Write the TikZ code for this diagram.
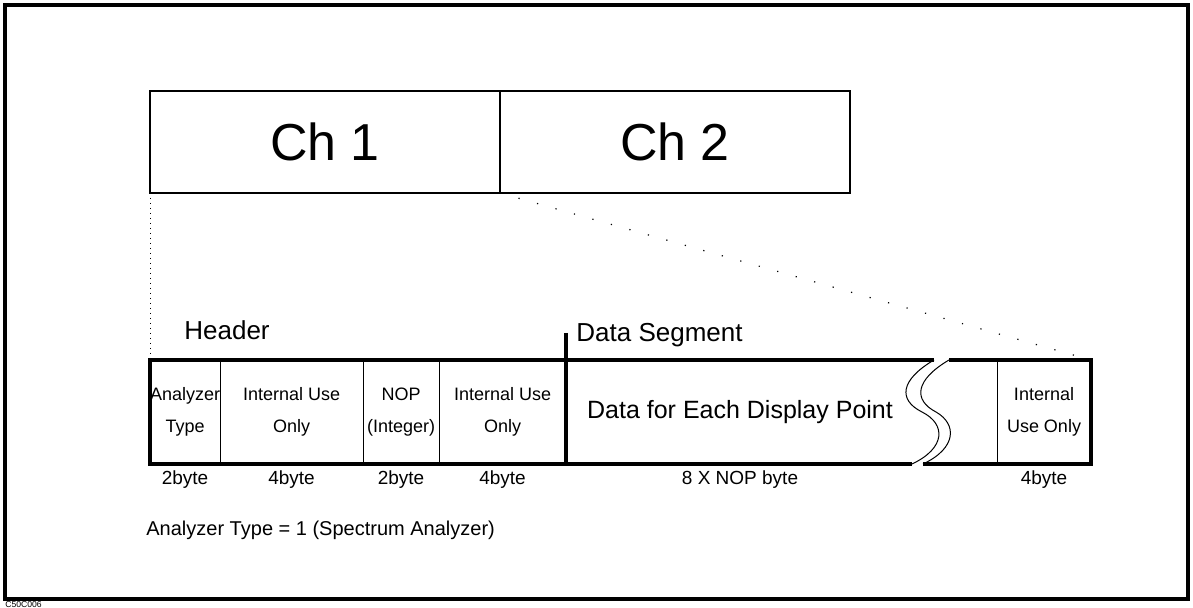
\documentclass[tikz,border=0pt]{standalone}
\usepackage{fontspec}
\setmainfont{Liberation Sans}
\usetikzlibrary{positioning, calc}

\tikzset{
	chbox/.style={draw, line width=0.8pt, minimum width=175pt, minimum height=51pt,
		inner sep=0pt, outer sep=0pt, font=\fontsize{26}{26}\selectfont},
	cell/.style={minimum height=52pt, inner sep=0pt, outer sep=0pt, align=center,
		font=\fontsize{9}{16}\selectfont},
	lbl/.style={inner sep=0pt, font=\fontsize{9.5}{10}\selectfont},
	title/.style={inner sep=0pt, anchor=west, font=\fontsize{13}{13}\selectfont},
	barline/.style={line width=1.6pt},
	divline/.style={line width=0.5pt},
	sparse/.style={line width=0.6pt, dash pattern=on 0.6pt off 9pt},
}

\begin{document}
\begin{tikzpicture}[x=0.5pt,y=-0.5pt]
	\useasboundingbox (0,0) rectangle (1193,608);
	\draw[line width=1.8pt] (5,5) rectangle (1188,599);
	% channels
	\node[chbox, anchor=north west] (ch1) at (150,91) {Ch 1};
	\node[chbox, right=0pt of ch1] (ch2) {Ch 2};
	% header and data segment cells
	\node[title] (hdr) at (184,330) {Header};
	\node[title] (seg) at (576,335) {Data Segment};
	\node[cell, minimum width=34.5pt, anchor=north west] (typ) at (150,360) {Analyzer\\Type};
	\node[cell, minimum width=71.5pt, right=0pt of typ] (iu1) {Internal Use\\Only};
	\node[cell, minimum width=38pt, right=0pt of iu1] (nop) {NOP\\(Integer)};
	\node[cell, minimum width=63.5pt, right=0pt of nop] (iu2) {Internal Use\\Only};
	\node[cell, minimum width=150pt, font=\fontsize{12.5}{14}\selectfont] (data) at (740,412) {Data for Each Display Point};
	\node[cell, minimum width=47pt, anchor=north east] (iu3) at (1091,360) {Internal\\Use Only};
	% outline with break
	\draw[barline] (934,360) -- (typ.north west) -- (typ.south west) -- (912,464);
	\draw[barline] (949,360) -- (iu3.north east) -- (iu3.south east) -- (923,464);
	\draw[barline] ($(iu2.north east)+(0,-27)$) -- (iu2.south east);
	\draw[divline] (typ.north east) -- (typ.south east);
	\draw[divline] (iu1.north east) -- (iu1.south east);
	\draw[divline] (nop.north east) -- (nop.south east);
	\draw[divline] (iu3.north west) -- (iu3.south west);
	\draw[divline] (934,360) .. controls (900,380) and (898,400) .. (922,412)
		.. controls (946,424) and (946,448) .. (912,464);
	\draw[divline] (949,360) .. controls (915,380) and (913,400) .. (936,412)
		.. controls (957,424) and (957,448) .. (923,464);
	% zoom lines
	\draw[divline, dotted] (ch1.south west) -- (typ.north west);
	\draw[sparse] (ch2.south west) -- (iu3.north east);
	% sizes
	\node[lbl, below=3pt of typ] (s1) {2byte};
	\node[lbl, below=3pt of iu1] (s2) {4byte};
	\node[lbl, below=3pt of nop] (s3) {2byte};
	\node[lbl, below=3pt of iu2] (s4) {4byte};
	\node[lbl, below=3pt of data] (s5) {8 X NOP byte};
	\node[lbl, below=3pt of iu3] (s6) {4byte};
	\node[inner sep=0pt, anchor=west, font=\fontsize{10}{10}\selectfont] (note) at (146,530)
		{Analyzer Type = 1 (Spectrum Analyzer)};
	\node[inner sep=0pt, anchor=north west, font=\fontsize{4.3}{5}\selectfont] (code) at (5,601.5) {C50C006};
\end{tikzpicture}
\end{document}
